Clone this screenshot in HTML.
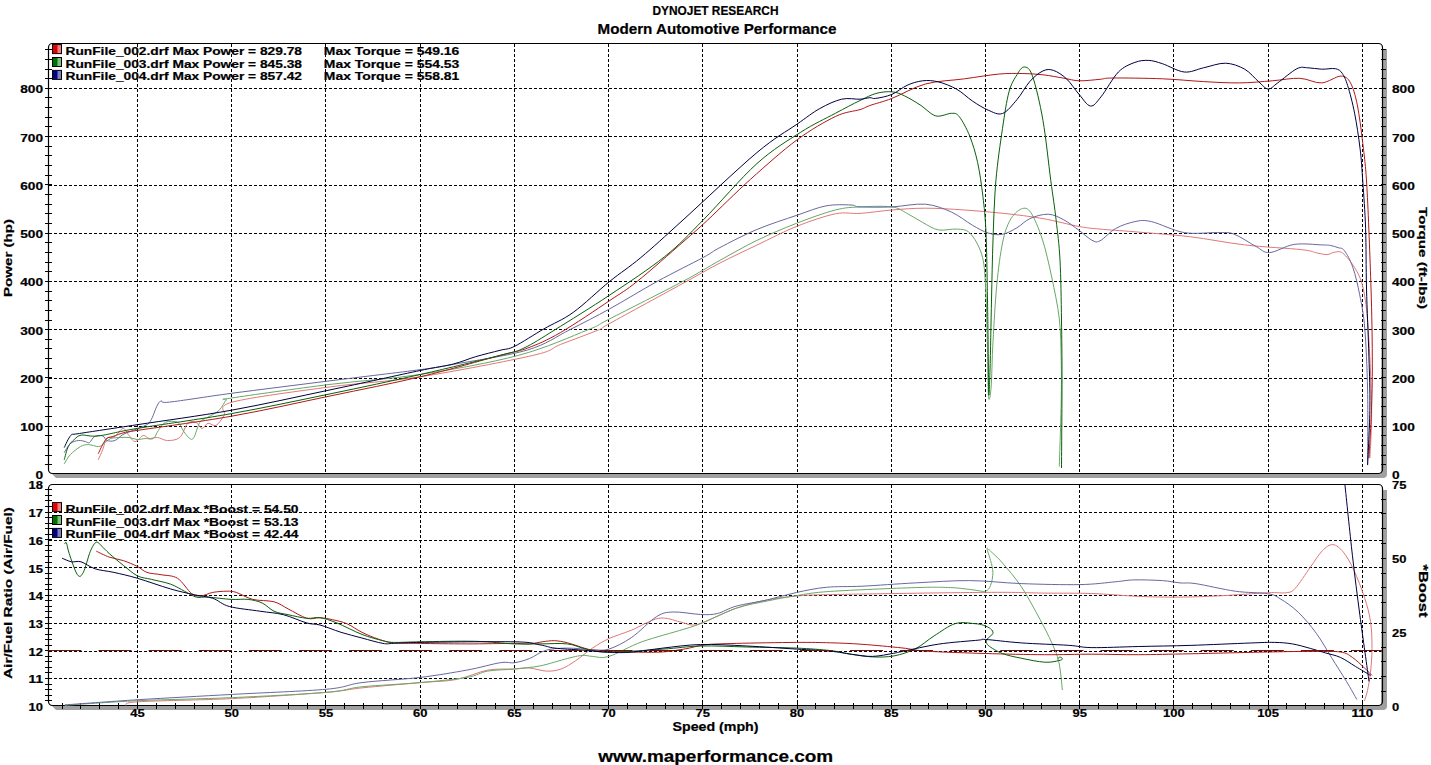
<!DOCTYPE html><html><head><meta charset="utf-8"><style>html,body{margin:0;padding:0;background:#fff;width:1431px;height:765px;overflow:hidden}svg{display:block}text{font-family:"Liberation Sans",sans-serif;font-weight:bold;fill:#000;stroke:#000;stroke-width:0.2px}</style></head><body><svg width="1431" height="765" viewBox="0 0 1431 765"><g stroke="#000" stroke-width="1" stroke-dasharray="3 2" fill="none"><line x1="137.5" y1="44" x2="137.5" y2="473"/><line x1="231.5" y1="44" x2="231.5" y2="473"/><line x1="325.5" y1="44" x2="325.5" y2="473"/><line x1="420.5" y1="44" x2="420.5" y2="473"/><line x1="514.5" y1="44" x2="514.5" y2="473"/><line x1="608.5" y1="44" x2="608.5" y2="473"/><line x1="702.5" y1="44" x2="702.5" y2="473"/><line x1="797.5" y1="44" x2="797.5" y2="473"/><line x1="891.5" y1="44" x2="891.5" y2="473"/><line x1="985.5" y1="44" x2="985.5" y2="473"/><line x1="1079.5" y1="44" x2="1079.5" y2="473"/><line x1="1173.5" y1="44" x2="1173.5" y2="473"/><line x1="1268.5" y1="44" x2="1268.5" y2="473"/><line x1="1362.5" y1="44" x2="1362.5" y2="473"/><line x1="49" y1="426.5" x2="1382" y2="426.5"/><line x1="49" y1="378.5" x2="1382" y2="378.5"/><line x1="49" y1="329.5" x2="1382" y2="329.5"/><line x1="49" y1="281.5" x2="1382" y2="281.5"/><line x1="49" y1="233.5" x2="1382" y2="233.5"/><line x1="49" y1="185.5" x2="1382" y2="185.5"/><line x1="49" y1="136.5" x2="1382" y2="136.5"/><line x1="49" y1="88.5" x2="1382" y2="88.5"/><line x1="137.5" y1="485" x2="137.5" y2="705"/><line x1="231.5" y1="485" x2="231.5" y2="705"/><line x1="325.5" y1="485" x2="325.5" y2="705"/><line x1="420.5" y1="485" x2="420.5" y2="705"/><line x1="514.5" y1="485" x2="514.5" y2="705"/><line x1="608.5" y1="485" x2="608.5" y2="705"/><line x1="702.5" y1="485" x2="702.5" y2="705"/><line x1="797.5" y1="485" x2="797.5" y2="705"/><line x1="891.5" y1="485" x2="891.5" y2="705"/><line x1="985.5" y1="485" x2="985.5" y2="705"/><line x1="1079.5" y1="485" x2="1079.5" y2="705"/><line x1="1173.5" y1="485" x2="1173.5" y2="705"/><line x1="1268.5" y1="485" x2="1268.5" y2="705"/><line x1="1362.5" y1="485" x2="1362.5" y2="705"/><line x1="49" y1="678.5" x2="1382" y2="678.5"/><line x1="49" y1="651.5" x2="1382" y2="651.5"/><line x1="49" y1="623.5" x2="1382" y2="623.5"/><line x1="49" y1="595.5" x2="1382" y2="595.5"/><line x1="49" y1="567.5" x2="1382" y2="567.5"/><line x1="49" y1="540.5" x2="1382" y2="540.5"/><line x1="49" y1="512.5" x2="1382" y2="512.5"/></g><path d="M1383 49 h4 V474 a4 4 0 0 1 -4 4 H56 l-4 -4 H1380 a1 1 0 0 0 1 -1 Z" fill="#a0a0a0"/><path d="M48.5 47.5 a4 4 0 0 1 4 -4 H1378.5 a4 4 0 0 1 4 4 V469.5 a4 4 0 0 1 -4 4 H52.5 a4 4 0 0 1 -4 -4 Z" fill="none" stroke="#000" stroke-width="1.2"/><path d="M1383 490 h4 V706 a4 4 0 0 1 -4 4 H56 l-4 -4 H1380 a1 1 0 0 0 1 -1 Z" fill="#a0a0a0"/><path d="M48.5 488.5 a4 4 0 0 1 4 -4 H1378.5 a4 4 0 0 1 4 4 V701.5 a4 4 0 0 1 -4 4 H52.5 a4 4 0 0 1 -4 -4 Z" fill="none" stroke="#000" stroke-width="1.2"/><g stroke="#000" stroke-width="1"><line x1="45" y1="464.5" x2="52" y2="464.5"/><line x1="45" y1="455.5" x2="52" y2="455.5"/><line x1="45" y1="445.5" x2="52" y2="445.5"/><line x1="45" y1="435.5" x2="52" y2="435.5"/><line x1="45" y1="426.5" x2="52" y2="426.5"/><line x1="45" y1="416.5" x2="52" y2="416.5"/><line x1="45" y1="406.5" x2="52" y2="406.5"/><line x1="45" y1="397.5" x2="52" y2="397.5"/><line x1="45" y1="387.5" x2="52" y2="387.5"/><line x1="45" y1="377.5" x2="52" y2="377.5"/><line x1="45" y1="368.5" x2="52" y2="368.5"/><line x1="45" y1="358.5" x2="52" y2="358.5"/><line x1="45" y1="348.5" x2="52" y2="348.5"/><line x1="45" y1="339.5" x2="52" y2="339.5"/><line x1="45" y1="329.5" x2="52" y2="329.5"/><line x1="45" y1="320.5" x2="52" y2="320.5"/><line x1="45" y1="310.5" x2="52" y2="310.5"/><line x1="45" y1="300.5" x2="52" y2="300.5"/><line x1="45" y1="291.5" x2="52" y2="291.5"/><line x1="45" y1="281.5" x2="52" y2="281.5"/><line x1="45" y1="271.5" x2="52" y2="271.5"/><line x1="45" y1="262.5" x2="52" y2="262.5"/><line x1="45" y1="252.5" x2="52" y2="252.5"/><line x1="45" y1="242.5" x2="52" y2="242.5"/><line x1="45" y1="233.5" x2="52" y2="233.5"/><line x1="45" y1="223.5" x2="52" y2="223.5"/><line x1="45" y1="213.5" x2="52" y2="213.5"/><line x1="45" y1="204.5" x2="52" y2="204.5"/><line x1="45" y1="194.5" x2="52" y2="194.5"/><line x1="45" y1="184.5" x2="52" y2="184.5"/><line x1="45" y1="175.5" x2="52" y2="175.5"/><line x1="45" y1="165.5" x2="52" y2="165.5"/><line x1="45" y1="155.5" x2="52" y2="155.5"/><line x1="45" y1="146.5" x2="52" y2="146.5"/><line x1="45" y1="136.5" x2="52" y2="136.5"/><line x1="45" y1="126.5" x2="52" y2="126.5"/><line x1="45" y1="117.5" x2="52" y2="117.5"/><line x1="45" y1="107.5" x2="52" y2="107.5"/><line x1="45" y1="97.5" x2="52" y2="97.5"/><line x1="45" y1="88.5" x2="52" y2="88.5"/><line x1="45" y1="78.5" x2="52" y2="78.5"/><line x1="45" y1="69.5" x2="52" y2="69.5"/><line x1="45" y1="59.5" x2="52" y2="59.5"/><line x1="45" y1="49.5" x2="52" y2="49.5"/><line x1="1381" y1="464.5" x2="1386" y2="464.5"/><line x1="1381" y1="455.5" x2="1386" y2="455.5"/><line x1="1381" y1="445.5" x2="1386" y2="445.5"/><line x1="1381" y1="435.5" x2="1386" y2="435.5"/><line x1="1381" y1="426.5" x2="1386" y2="426.5"/><line x1="1381" y1="416.5" x2="1386" y2="416.5"/><line x1="1381" y1="406.5" x2="1386" y2="406.5"/><line x1="1381" y1="397.5" x2="1386" y2="397.5"/><line x1="1381" y1="387.5" x2="1386" y2="387.5"/><line x1="1381" y1="377.5" x2="1386" y2="377.5"/><line x1="1381" y1="368.5" x2="1386" y2="368.5"/><line x1="1381" y1="358.5" x2="1386" y2="358.5"/><line x1="1381" y1="348.5" x2="1386" y2="348.5"/><line x1="1381" y1="339.5" x2="1386" y2="339.5"/><line x1="1381" y1="329.5" x2="1386" y2="329.5"/><line x1="1381" y1="320.5" x2="1386" y2="320.5"/><line x1="1381" y1="310.5" x2="1386" y2="310.5"/><line x1="1381" y1="300.5" x2="1386" y2="300.5"/><line x1="1381" y1="291.5" x2="1386" y2="291.5"/><line x1="1381" y1="281.5" x2="1386" y2="281.5"/><line x1="1381" y1="271.5" x2="1386" y2="271.5"/><line x1="1381" y1="262.5" x2="1386" y2="262.5"/><line x1="1381" y1="252.5" x2="1386" y2="252.5"/><line x1="1381" y1="242.5" x2="1386" y2="242.5"/><line x1="1381" y1="233.5" x2="1386" y2="233.5"/><line x1="1381" y1="223.5" x2="1386" y2="223.5"/><line x1="1381" y1="213.5" x2="1386" y2="213.5"/><line x1="1381" y1="204.5" x2="1386" y2="204.5"/><line x1="1381" y1="194.5" x2="1386" y2="194.5"/><line x1="1381" y1="184.5" x2="1386" y2="184.5"/><line x1="1381" y1="175.5" x2="1386" y2="175.5"/><line x1="1381" y1="165.5" x2="1386" y2="165.5"/><line x1="1381" y1="155.5" x2="1386" y2="155.5"/><line x1="1381" y1="146.5" x2="1386" y2="146.5"/><line x1="1381" y1="136.5" x2="1386" y2="136.5"/><line x1="1381" y1="126.5" x2="1386" y2="126.5"/><line x1="1381" y1="117.5" x2="1386" y2="117.5"/><line x1="1381" y1="107.5" x2="1386" y2="107.5"/><line x1="1381" y1="97.5" x2="1386" y2="97.5"/><line x1="1381" y1="88.5" x2="1386" y2="88.5"/><line x1="1381" y1="78.5" x2="1386" y2="78.5"/><line x1="1381" y1="69.5" x2="1386" y2="69.5"/><line x1="1381" y1="59.5" x2="1386" y2="59.5"/><line x1="1381" y1="49.5" x2="1386" y2="49.5"/><line x1="45" y1="700.5" x2="52" y2="700.5"/><line x1="45" y1="695.5" x2="52" y2="695.5"/><line x1="45" y1="689.5" x2="52" y2="689.5"/><line x1="45" y1="684.5" x2="52" y2="684.5"/><line x1="45" y1="678.5" x2="52" y2="678.5"/><line x1="45" y1="672.5" x2="52" y2="672.5"/><line x1="45" y1="667.5" x2="52" y2="667.5"/><line x1="45" y1="661.5" x2="52" y2="661.5"/><line x1="45" y1="656.5" x2="52" y2="656.5"/><line x1="45" y1="650.5" x2="52" y2="650.5"/><line x1="45" y1="645.5" x2="52" y2="645.5"/><line x1="45" y1="639.5" x2="52" y2="639.5"/><line x1="45" y1="634.5" x2="52" y2="634.5"/><line x1="45" y1="628.5" x2="52" y2="628.5"/><line x1="45" y1="623.5" x2="52" y2="623.5"/><line x1="45" y1="617.5" x2="52" y2="617.5"/><line x1="45" y1="611.5" x2="52" y2="611.5"/><line x1="45" y1="606.5" x2="52" y2="606.5"/><line x1="45" y1="600.5" x2="52" y2="600.5"/><line x1="45" y1="595.5" x2="52" y2="595.5"/><line x1="45" y1="589.5" x2="52" y2="589.5"/><line x1="45" y1="584.5" x2="52" y2="584.5"/><line x1="45" y1="578.5" x2="52" y2="578.5"/><line x1="45" y1="573.5" x2="52" y2="573.5"/><line x1="45" y1="567.5" x2="52" y2="567.5"/><line x1="45" y1="562.5" x2="52" y2="562.5"/><line x1="45" y1="556.5" x2="52" y2="556.5"/><line x1="45" y1="550.5" x2="52" y2="550.5"/><line x1="45" y1="545.5" x2="52" y2="545.5"/><line x1="45" y1="539.5" x2="52" y2="539.5"/><line x1="45" y1="534.5" x2="52" y2="534.5"/><line x1="45" y1="528.5" x2="52" y2="528.5"/><line x1="45" y1="523.5" x2="52" y2="523.5"/><line x1="45" y1="517.5" x2="52" y2="517.5"/><line x1="45" y1="512.5" x2="52" y2="512.5"/><line x1="45" y1="506.5" x2="52" y2="506.5"/><line x1="45" y1="500.5" x2="52" y2="500.5"/><line x1="45" y1="495.5" x2="52" y2="495.5"/><line x1="45" y1="489.5" x2="52" y2="489.5"/><line x1="1381" y1="691.5" x2="1386" y2="691.5"/><line x1="1381" y1="676.5" x2="1386" y2="676.5"/><line x1="1381" y1="661.5" x2="1386" y2="661.5"/><line x1="1381" y1="647.5" x2="1386" y2="647.5"/><line x1="1381" y1="632.5" x2="1386" y2="632.5"/><line x1="1381" y1="617.5" x2="1386" y2="617.5"/><line x1="1381" y1="602.5" x2="1386" y2="602.5"/><line x1="1381" y1="587.5" x2="1386" y2="587.5"/><line x1="1381" y1="573.5" x2="1386" y2="573.5"/><line x1="1381" y1="558.5" x2="1386" y2="558.5"/><line x1="1381" y1="543.5" x2="1386" y2="543.5"/><line x1="1381" y1="528.5" x2="1386" y2="528.5"/><line x1="1381" y1="513.5" x2="1386" y2="513.5"/><line x1="1381" y1="499.5" x2="1386" y2="499.5"/><line x1="62.5" y1="703" x2="62.5" y2="709"/><line x1="80.5" y1="703" x2="80.5" y2="709"/><line x1="99.5" y1="703" x2="99.5" y2="709"/><line x1="118.5" y1="703" x2="118.5" y2="709"/><line x1="137.5" y1="703" x2="137.5" y2="709"/><line x1="156.5" y1="703" x2="156.5" y2="709"/><line x1="175.5" y1="703" x2="175.5" y2="709"/><line x1="194.5" y1="703" x2="194.5" y2="709"/><line x1="212.5" y1="703" x2="212.5" y2="709"/><line x1="231.5" y1="703" x2="231.5" y2="709"/><line x1="250.5" y1="703" x2="250.5" y2="709"/><line x1="269.5" y1="703" x2="269.5" y2="709"/><line x1="288.5" y1="703" x2="288.5" y2="709"/><line x1="307.5" y1="703" x2="307.5" y2="709"/><line x1="325.5" y1="703" x2="325.5" y2="709"/><line x1="344.5" y1="703" x2="344.5" y2="709"/><line x1="363.5" y1="703" x2="363.5" y2="709"/><line x1="382.5" y1="703" x2="382.5" y2="709"/><line x1="401.5" y1="703" x2="401.5" y2="709"/><line x1="420.5" y1="703" x2="420.5" y2="709"/><line x1="438.5" y1="703" x2="438.5" y2="709"/><line x1="457.5" y1="703" x2="457.5" y2="709"/><line x1="476.5" y1="703" x2="476.5" y2="709"/><line x1="495.5" y1="703" x2="495.5" y2="709"/><line x1="514.5" y1="703" x2="514.5" y2="709"/><line x1="533.5" y1="703" x2="533.5" y2="709"/><line x1="552.5" y1="703" x2="552.5" y2="709"/><line x1="570.5" y1="703" x2="570.5" y2="709"/><line x1="589.5" y1="703" x2="589.5" y2="709"/><line x1="608.5" y1="703" x2="608.5" y2="709"/><line x1="627.5" y1="703" x2="627.5" y2="709"/><line x1="646.5" y1="703" x2="646.5" y2="709"/><line x1="665.5" y1="703" x2="665.5" y2="709"/><line x1="683.5" y1="703" x2="683.5" y2="709"/><line x1="702.5" y1="703" x2="702.5" y2="709"/><line x1="721.5" y1="703" x2="721.5" y2="709"/><line x1="740.5" y1="703" x2="740.5" y2="709"/><line x1="759.5" y1="703" x2="759.5" y2="709"/><line x1="778.5" y1="703" x2="778.5" y2="709"/><line x1="797.5" y1="703" x2="797.5" y2="709"/><line x1="815.5" y1="703" x2="815.5" y2="709"/><line x1="834.5" y1="703" x2="834.5" y2="709"/><line x1="853.5" y1="703" x2="853.5" y2="709"/><line x1="872.5" y1="703" x2="872.5" y2="709"/><line x1="891.5" y1="703" x2="891.5" y2="709"/><line x1="910.5" y1="703" x2="910.5" y2="709"/><line x1="928.5" y1="703" x2="928.5" y2="709"/><line x1="947.5" y1="703" x2="947.5" y2="709"/><line x1="966.5" y1="703" x2="966.5" y2="709"/><line x1="985.5" y1="703" x2="985.5" y2="709"/><line x1="1004.5" y1="703" x2="1004.5" y2="709"/><line x1="1023.5" y1="703" x2="1023.5" y2="709"/><line x1="1041.5" y1="703" x2="1041.5" y2="709"/><line x1="1060.5" y1="703" x2="1060.5" y2="709"/><line x1="1079.5" y1="703" x2="1079.5" y2="709"/><line x1="1098.5" y1="703" x2="1098.5" y2="709"/><line x1="1117.5" y1="703" x2="1117.5" y2="709"/><line x1="1136.5" y1="703" x2="1136.5" y2="709"/><line x1="1155.5" y1="703" x2="1155.5" y2="709"/><line x1="1173.5" y1="703" x2="1173.5" y2="709"/><line x1="1192.5" y1="703" x2="1192.5" y2="709"/><line x1="1211.5" y1="703" x2="1211.5" y2="709"/><line x1="1230.5" y1="703" x2="1230.5" y2="709"/><line x1="1249.5" y1="703" x2="1249.5" y2="709"/><line x1="1268.5" y1="703" x2="1268.5" y2="709"/><line x1="1286.5" y1="703" x2="1286.5" y2="709"/><line x1="1305.5" y1="703" x2="1305.5" y2="709"/><line x1="1324.5" y1="703" x2="1324.5" y2="709"/><line x1="1343.5" y1="703" x2="1343.5" y2="709"/><line x1="1362.5" y1="703" x2="1362.5" y2="709"/></g><text x="43" y="478.5" font-size="11" text-anchor="end" textLength="7.6" lengthAdjust="spacingAndGlyphs">0</text><text x="1392" y="478.5" font-size="11" text-anchor="start" textLength="7.6" lengthAdjust="spacingAndGlyphs">0</text><text x="43" y="431.23" font-size="11" text-anchor="end" textLength="22.799999999999997" lengthAdjust="spacingAndGlyphs">100</text><text x="1392" y="431.23" font-size="11" text-anchor="start" textLength="22.799999999999997" lengthAdjust="spacingAndGlyphs">100</text><text x="43" y="382.96" font-size="11" text-anchor="end" textLength="22.799999999999997" lengthAdjust="spacingAndGlyphs">200</text><text x="1392" y="382.96" font-size="11" text-anchor="start" textLength="22.799999999999997" lengthAdjust="spacingAndGlyphs">200</text><text x="43" y="334.69" font-size="11" text-anchor="end" textLength="22.799999999999997" lengthAdjust="spacingAndGlyphs">300</text><text x="1392" y="334.69" font-size="11" text-anchor="start" textLength="22.799999999999997" lengthAdjust="spacingAndGlyphs">300</text><text x="43" y="286.41999999999996" font-size="11" text-anchor="end" textLength="22.799999999999997" lengthAdjust="spacingAndGlyphs">400</text><text x="1392" y="286.41999999999996" font-size="11" text-anchor="start" textLength="22.799999999999997" lengthAdjust="spacingAndGlyphs">400</text><text x="43" y="238.14999999999998" font-size="11" text-anchor="end" textLength="22.799999999999997" lengthAdjust="spacingAndGlyphs">500</text><text x="1392" y="238.14999999999998" font-size="11" text-anchor="start" textLength="22.799999999999997" lengthAdjust="spacingAndGlyphs">500</text><text x="43" y="189.88" font-size="11" text-anchor="end" textLength="22.799999999999997" lengthAdjust="spacingAndGlyphs">600</text><text x="1392" y="189.88" font-size="11" text-anchor="start" textLength="22.799999999999997" lengthAdjust="spacingAndGlyphs">600</text><text x="43" y="141.61" font-size="11" text-anchor="end" textLength="22.799999999999997" lengthAdjust="spacingAndGlyphs">700</text><text x="1392" y="141.61" font-size="11" text-anchor="start" textLength="22.799999999999997" lengthAdjust="spacingAndGlyphs">700</text><text x="43" y="93.33999999999997" font-size="11" text-anchor="end" textLength="22.799999999999997" lengthAdjust="spacingAndGlyphs">800</text><text x="1392" y="93.33999999999997" font-size="11" text-anchor="start" textLength="22.799999999999997" lengthAdjust="spacingAndGlyphs">800</text><text x="43" y="711.2" font-size="11" text-anchor="end" textLength="14.4" lengthAdjust="spacingAndGlyphs">10</text><text x="43" y="683.47" font-size="11" text-anchor="end" textLength="14.4" lengthAdjust="spacingAndGlyphs">11</text><text x="43" y="655.74" font-size="11" text-anchor="end" textLength="14.4" lengthAdjust="spacingAndGlyphs">12</text><text x="43" y="628.01" font-size="11" text-anchor="end" textLength="14.4" lengthAdjust="spacingAndGlyphs">13</text><text x="43" y="600.2800000000001" font-size="11" text-anchor="end" textLength="14.4" lengthAdjust="spacingAndGlyphs">14</text><text x="43" y="572.5500000000001" font-size="11" text-anchor="end" textLength="14.4" lengthAdjust="spacingAndGlyphs">15</text><text x="43" y="544.82" font-size="11" text-anchor="end" textLength="14.4" lengthAdjust="spacingAndGlyphs">16</text><text x="43" y="517.09" font-size="11" text-anchor="end" textLength="14.4" lengthAdjust="spacingAndGlyphs">17</text><text x="43" y="489.36" font-size="11" text-anchor="end" textLength="14.4" lengthAdjust="spacingAndGlyphs">18</text><text x="1392" y="711.2" font-size="11" text-anchor="start" textLength="7.2" lengthAdjust="spacingAndGlyphs">0</text><text x="1392" y="637.2533333333333" font-size="11" text-anchor="start" textLength="14.4" lengthAdjust="spacingAndGlyphs">25</text><text x="1392" y="563.3066666666667" font-size="11" text-anchor="start" textLength="14.4" lengthAdjust="spacingAndGlyphs">50</text><text x="1392" y="489.36" font-size="11" text-anchor="start" textLength="14.4" lengthAdjust="spacingAndGlyphs">75</text><text x="137.5" y="717" font-size="11" text-anchor="middle" textLength="14.4" lengthAdjust="spacingAndGlyphs">45</text><text x="231.715" y="717" font-size="11" text-anchor="middle" textLength="14.4" lengthAdjust="spacingAndGlyphs">50</text><text x="325.93" y="717" font-size="11" text-anchor="middle" textLength="14.4" lengthAdjust="spacingAndGlyphs">55</text><text x="420.145" y="717" font-size="11" text-anchor="middle" textLength="14.4" lengthAdjust="spacingAndGlyphs">60</text><text x="514.36" y="717" font-size="11" text-anchor="middle" textLength="14.4" lengthAdjust="spacingAndGlyphs">65</text><text x="608.575" y="717" font-size="11" text-anchor="middle" textLength="14.4" lengthAdjust="spacingAndGlyphs">70</text><text x="702.79" y="717" font-size="11" text-anchor="middle" textLength="14.4" lengthAdjust="spacingAndGlyphs">75</text><text x="797.005" y="717" font-size="11" text-anchor="middle" textLength="14.4" lengthAdjust="spacingAndGlyphs">80</text><text x="891.22" y="717" font-size="11" text-anchor="middle" textLength="14.4" lengthAdjust="spacingAndGlyphs">85</text><text x="985.435" y="717" font-size="11" text-anchor="middle" textLength="14.4" lengthAdjust="spacingAndGlyphs">90</text><text x="1079.65" y="717" font-size="11" text-anchor="middle" textLength="14.4" lengthAdjust="spacingAndGlyphs">95</text><text x="1173.865" y="717" font-size="11" text-anchor="middle" textLength="21.6" lengthAdjust="spacingAndGlyphs">100</text><text x="1268.08" y="717" font-size="11" text-anchor="middle" textLength="21.6" lengthAdjust="spacingAndGlyphs">105</text><text x="1362.295" y="717" font-size="11" text-anchor="middle" textLength="21.6" lengthAdjust="spacingAndGlyphs">110</text><text x="715.5" y="14.5" font-size="12" text-anchor="middle" textLength="126" lengthAdjust="spacingAndGlyphs">DYNOJET RESEARCH</text><text x="717" y="33.5" font-size="14" text-anchor="middle" textLength="239" lengthAdjust="spacingAndGlyphs">Modern Automotive Performance</text><text x="715.5" y="730.5" font-size="12" text-anchor="middle" textLength="86" lengthAdjust="spacingAndGlyphs">Speed (mph)</text><text x="715.7" y="762" font-size="16" text-anchor="middle" textLength="235" lengthAdjust="spacingAndGlyphs">www.maperformance.com</text><text transform="translate(12.3,258) rotate(-90)" font-size="11.5" text-anchor="middle" textLength="78" lengthAdjust="spacingAndGlyphs">Power (hp)</text><text transform="translate(1419,258) rotate(90)" font-size="11.5" text-anchor="middle" textLength="102" lengthAdjust="spacingAndGlyphs">Torque (ft-lbs)</text><text transform="translate(12.3,593) rotate(-90)" font-size="11.5" text-anchor="middle" textLength="172" lengthAdjust="spacingAndGlyphs">Air/Fuel Ratio (Air/Fuel)</text><text transform="translate(1419,591) rotate(90)" font-size="12" text-anchor="middle" textLength="53" lengthAdjust="spacingAndGlyphs">*Boost</text><rect x="52.5" y="44.6" width="9" height="9" fill="#f08080" stroke="#000" stroke-width="1"/><rect x="53" y="45.1" width="4.5" height="8" fill="#e00000"/><text x="65.5" y="54.6" font-size="11" text-anchor="start" textLength="236.5" lengthAdjust="spacingAndGlyphs">RunFile_002.drf Max Power = 829.78</text><text x="323.8" y="54.6" font-size="11" text-anchor="start" textLength="135.5" lengthAdjust="spacingAndGlyphs">Max Torque = 549.16</text><rect x="52.5" y="57.5" width="9" height="9" fill="#80c080" stroke="#000" stroke-width="1"/><rect x="53" y="58.0" width="4.5" height="8" fill="#007000"/><text x="65.5" y="67.5" font-size="11" text-anchor="start" textLength="236.5" lengthAdjust="spacingAndGlyphs">RunFile_003.drf Max Power = 845.38</text><text x="323.8" y="67.5" font-size="11" text-anchor="start" textLength="135.5" lengthAdjust="spacingAndGlyphs">Max Torque = 554.53</text><rect x="52.5" y="70.4" width="9" height="9" fill="#8080c0" stroke="#000" stroke-width="1"/><rect x="53" y="70.9" width="4.5" height="8" fill="#000080"/><text x="65.5" y="80.4" font-size="11" text-anchor="start" textLength="236.5" lengthAdjust="spacingAndGlyphs">RunFile_004.drf Max Power = 857.42</text><text x="323.8" y="80.4" font-size="11" text-anchor="start" textLength="135.5" lengthAdjust="spacingAndGlyphs">Max Torque = 558.81</text><rect x="52.5" y="502.6" width="9" height="9" fill="#f08080" stroke="#000" stroke-width="1"/><rect x="53" y="503.1" width="4.5" height="8" fill="#e00000"/><text x="65.5" y="512.6" font-size="11" text-anchor="start" textLength="233" lengthAdjust="spacingAndGlyphs">RunFile_002.drf Max *Boost = 54.50</text><rect x="52.5" y="515.5" width="9" height="9" fill="#80c080" stroke="#000" stroke-width="1"/><rect x="53" y="516.0" width="4.5" height="8" fill="#007000"/><text x="65.5" y="525.5" font-size="11" text-anchor="start" textLength="233" lengthAdjust="spacingAndGlyphs">RunFile_003.drf Max *Boost = 53.13</text><rect x="52.5" y="528.4" width="9" height="9" fill="#8080c0" stroke="#000" stroke-width="1"/><rect x="53" y="528.9" width="4.5" height="8" fill="#000080"/><text x="65.5" y="538.4" font-size="11" text-anchor="start" textLength="233" lengthAdjust="spacingAndGlyphs">RunFile_004.drf Max *Boost = 42.44</text><path d="M98.2,459.8 C99.0,458.1 101.3,453.2 102.7,449.7 C104.1,446.1 104.8,440.7 106.8,438.5 C108.8,436.3 112.2,438.2 114.9,436.5 C117.6,434.8 120.7,428.6 123.0,428.4 C125.3,428.2 127.0,433.3 129.0,435.5 C131.0,437.7 132.7,441.6 135.1,441.6 C137.5,441.6 140.8,436.0 143.2,435.5 C145.6,435.0 146.9,438.2 149.3,438.5 C151.7,438.8 154.4,437.2 157.4,437.5 C160.4,437.8 163.8,440.5 167.5,440.5 C171.2,440.5 176.3,440.4 179.7,437.5 C183.1,434.6 185.1,425.8 187.8,423.3 C190.5,420.8 193.5,421.5 195.9,422.3 C198.3,423.1 200.0,428.2 202.0,428.4 C204.0,428.6 205.6,423.8 208.0,423.3 C210.4,422.8 213.5,426.7 216.2,425.3 C218.9,423.9 221.6,419.1 224.3,415.2 C227.0,411.3 214.8,406.8 232.4,402.1 C250.0,397.4 298.6,391.1 330.0,386.9 C361.4,382.7 386.9,381.9 420.7,376.7 C454.5,371.4 509.6,360.8 532.9,355.4 C556.2,350.0 549.4,348.8 560.4,344.5 C571.4,340.2 590.6,333.3 598.8,329.8 C607.0,326.3 595.1,331.5 609.8,323.4 C624.4,315.3 668.3,291.4 686.7,281.3 C705.1,271.2 708.3,269.0 720.0,263.0 C731.7,257.0 744.1,251.2 756.9,245.1 C769.7,239.0 783.7,231.5 796.8,226.3 C809.9,221.1 824.9,216.0 835.4,213.8 C845.9,211.7 850.6,214.0 860.0,213.4 C869.4,212.8 881.0,210.9 891.9,210.0 C902.8,209.1 913.3,208.2 925.4,208.2 C937.5,208.2 951.5,209.1 964.6,210.0 C977.7,210.9 990.7,212.0 1003.8,213.4 C1016.9,214.8 1030.5,216.4 1043.0,218.6 C1055.5,220.8 1069.6,224.8 1079.1,226.5 C1088.6,228.2 1090.7,228.2 1100.0,229.1 C1109.3,230.0 1119.9,230.5 1134.9,231.8 C1149.9,233.1 1171.5,234.5 1189.8,236.7 C1208.1,238.9 1226.0,242.7 1244.7,244.9 C1263.4,247.1 1289.6,248.3 1301.7,249.7 C1313.8,251.0 1313.0,252.2 1317.2,253.0 C1321.4,253.8 1324.3,254.7 1327.1,254.6 C1329.9,254.5 1331.6,252.6 1334.2,252.3 C1336.8,252.1 1339.2,250.5 1342.6,253.1 C1346.0,255.7 1351.2,261.8 1354.6,267.6 C1358.0,273.4 1360.8,277.8 1363.1,288.0 C1365.4,298.2 1366.8,308.9 1368.2,328.8 C1369.6,348.7 1371.3,385.6 1371.6,407.1 C1371.9,428.7 1370.2,449.6 1369.9,458.1" fill="none" stroke="#e07878" stroke-width="1" stroke-linejoin="round"/><path d="M64.2,463.8 C65.2,462.3 67.6,457.6 70.3,454.7 C73.0,451.8 77.4,448.3 80.4,446.6 C83.4,444.9 85.5,444.6 88.5,444.6 C91.5,444.6 96.1,446.8 98.6,446.6 C101.1,446.4 101.7,445.0 103.7,443.6 C105.7,442.2 107.9,439.5 110.8,438.5 C113.7,437.5 117.9,437.7 120.9,437.5 C123.9,437.3 126.3,437.2 129.0,437.5 C131.7,437.8 134.4,439.3 137.1,439.5 C139.8,439.7 142.5,438.7 145.2,438.5 C147.9,438.3 151.1,439.9 153.3,438.5 C155.5,437.1 156.4,433.1 158.4,430.4 C160.4,427.7 162.3,423.6 165.5,422.3 C168.7,421.0 174.7,420.8 177.7,422.3 C180.7,423.8 181.7,428.7 183.7,431.4 C185.7,434.1 188.1,437.5 189.8,438.5 C191.5,439.5 192.2,440.2 193.9,437.5 C195.6,434.8 197.6,425.7 199.9,422.3 C202.2,418.9 204.8,419.2 208.0,417.2 C211.2,415.2 216.1,413.1 219.2,410.2 C222.2,407.3 224.2,402.0 226.3,400.0 C228.4,398.0 214.2,400.6 231.5,398.0 C248.8,395.4 298.5,388.3 330.0,384.4 C361.5,380.5 389.3,379.2 420.7,374.4 C452.1,369.6 490.4,362.8 518.3,355.4 C546.2,348.0 572.6,335.9 587.9,329.8 C603.1,323.7 593.9,326.9 609.8,318.8 C625.6,310.7 664.6,291.1 683.0,281.3 C701.4,271.6 707.7,267.1 720.0,260.3 C732.3,253.5 744.1,246.6 756.9,240.4 C769.7,234.2 783.7,228.3 796.8,223.2 C809.9,218.1 824.8,212.7 835.4,210.0 C846.0,207.3 850.8,207.4 860.2,206.9 C869.6,206.4 884.1,205.8 891.9,206.9 C899.7,208.0 902.0,210.8 907.1,213.4 C912.2,216.0 917.5,219.8 922.7,222.5 C927.9,225.2 932.7,228.8 938.4,229.9 C944.1,231.0 951.5,228.6 956.7,229.1 C961.9,229.6 965.6,228.8 969.8,233.0 C974.0,237.2 979.1,245.8 981.7,254.4 C984.3,263.0 984.6,270.2 985.5,284.7 C986.4,299.2 986.8,322.9 987.3,341.5 C987.8,360.1 987.9,388.8 988.5,396.4 C989.1,404.0 990.4,396.1 991.1,387 C991.9,377.9 992.0,358.6 993,341.5 C994.0,324.4 995.2,301.1 996.8,284.7 C998.4,268.3 1000.3,253.7 1002.5,243 C1004.7,232.3 1006.9,226.0 1010,220.3 C1013.1,214.6 1017.9,210.2 1021.4,208.9 C1024.9,207.6 1027.4,207.6 1030.9,212.7 C1034.4,217.8 1038.8,228.5 1042.3,239.2 C1045.8,249.9 1048.9,263.8 1051.7,277.1 C1054.5,290.4 1057.7,304.9 1059.3,318.8 C1060.9,332.7 1060.9,346.6 1061.2,360.5 C1061.5,374.4 1061.5,384.3 1061.2,402 C1060.9,419.7 1059.6,455.8 1059.3,466.5" fill="none" stroke="#68a868" stroke-width="1" stroke-linejoin="round"/><path d="M64.2,452.7 C65.2,451.2 67.9,445.6 70.3,443.6 C72.7,441.6 75.9,440.8 78.4,440.5 C80.9,440.2 83.7,441.2 85.5,441.6 C87.3,442.0 88.0,443.5 89.5,442.6 C91.0,441.8 92.4,437.6 94.6,436.5 C96.8,435.4 100.7,435.2 102.7,435.9 C104.7,436.6 104.8,439.7 106.8,440.5 C108.8,441.3 112.2,441.5 114.9,440.5 C117.6,439.5 120.0,436.2 123.0,434.5 C126.0,432.8 129.7,431.8 133.1,430.4 C136.5,429.0 140.3,427.9 143.2,426.4 C146.1,424.9 147.9,424.9 150.3,421.3 C152.7,417.8 155.5,408.5 157.4,405.1 C159.3,401.7 159.5,401.5 161.5,401.0 C163.5,400.5 157.9,403.4 169.6,402.1 C181.3,400.8 204.8,396.9 231.5,393.3 C258.2,389.8 298.5,384.8 330.0,380.8 C361.5,376.9 400.1,372.3 420.7,369.6 C441.2,366.9 435.5,367.7 453.3,364.4 C471.1,361.1 508.1,355.8 527.5,350.0 C546.9,344.2 555.9,336.7 569.6,329.8 C583.3,322.9 595.2,316.9 609.8,308.8 C624.4,300.7 641.8,289.9 657.4,281.3 C673.0,272.8 692.8,263.1 703.2,257.5 C713.6,251.9 711.0,252.2 720.0,247.5 C729.0,242.8 744.1,234.9 756.9,229.5 C769.7,224.1 785.3,219.2 796.8,215.3 C808.3,211.4 816.9,207.6 825.9,205.9 C834.9,204.2 845.3,204.8 851.0,205.0 C856.7,205.2 853.2,206.6 860.0,206.9 C866.8,207.2 881.0,207.4 891.9,206.9 C902.8,206.4 915.5,203.3 925.4,204.2 C935.3,205.1 943.7,208.6 951.5,212.1 C959.3,215.6 966.3,221.7 972.4,225.2 C978.5,228.7 983.1,231.5 988.1,233.0 C993.1,234.5 997.7,235.2 1002.5,234.3 C1007.3,233.4 1012.3,230.4 1016.9,227.8 C1021.5,225.2 1024.7,220.9 1029.9,218.6 C1035.1,216.3 1042.5,214.0 1048.2,214.2 C1053.9,214.4 1058.8,217.2 1063.9,219.9 C1069.1,222.6 1074.4,227.0 1079.1,230.4 C1083.8,233.8 1088.4,238.5 1091.9,240.2 C1095.4,241.9 1096.0,242.8 1100.0,240.8 C1104.0,238.9 1109.9,231.7 1115.7,228.5 C1121.5,225.3 1129.0,222.8 1134.9,221.6 C1140.9,220.4 1143.2,219.8 1151.4,221.6 C1159.6,223.4 1173.3,230.8 1184.3,232.6 C1195.3,234.4 1209.0,232.4 1217.3,232.6 C1225.5,232.8 1227.4,231.7 1233.8,234.0 C1240.2,236.3 1249.8,243.2 1255.7,246.3 C1261.7,249.4 1263.1,252.9 1269.5,252.6 C1275.9,252.3 1285.5,245.7 1294.2,244.4 C1302.9,243.1 1315.5,244.7 1321.6,244.9 C1327.7,245.1 1328.0,245.0 1330.8,245.5 C1333.5,246.0 1335.8,246.8 1338.1,247.7 C1340.4,248.5 1341.9,247.3 1344.4,250.6 C1346.9,253.9 1350.4,260.2 1352.9,267.6 C1355.5,275.0 1357.7,284.6 1359.7,294.8 C1361.7,305.0 1363.5,312.9 1364.8,328.8 C1366.1,344.7 1367.1,367.4 1367.6,390.1 C1368.1,412.8 1367.6,452.4 1367.6,464.9" fill="none" stroke="#6868a0" stroke-width="1" stroke-linejoin="round"/><path d="M98.2,453.7 C99.5,451.3 103.3,442.4 105.7,439.5 C108.1,436.6 109.6,437.7 112.8,436.5 C116.0,435.3 120.9,433.4 125.0,432.4 C129.1,431.4 119.6,433.1 137.3,430.4 C155.1,427.7 199.4,421.9 231.5,416.2 C263.6,410.5 298.5,402.6 330.0,396.0 C361.5,389.4 392.4,383.5 420.7,376.7 C449.0,369.9 482.2,360.2 500.0,355.4 C517.8,350.6 517.4,351.9 527.5,348.1 C537.6,344.3 546.7,340.5 560.4,332.6 C574.1,324.7 597.0,309.1 609.8,300.5 C622.6,291.9 625.1,291.1 637.3,281.3 C649.5,271.6 671.3,252.2 683.0,242.0 C694.7,231.8 696.4,230.5 707.7,220.0 C719.0,209.5 735.8,192.5 750.6,179.2 C765.5,165.9 782.7,150.4 796.8,140.0 C810.9,129.6 824.9,121.6 835.4,116.5 C845.9,111.4 854.2,111.4 860.0,109.6 C865.8,107.8 864.6,107.4 869.9,105.5 C875.2,103.6 882.6,102.0 891.9,98.4 C901.1,94.8 913.3,87.3 925.4,84.0 C937.5,80.7 952.4,80.5 964.6,78.8 C976.8,77.1 989.0,75.0 998.6,74.1 C1008.2,73.2 1014.7,73.4 1022.1,73.5 C1029.5,73.6 1036.0,74.0 1043.0,74.8 C1050.0,75.6 1057.9,77.2 1063.9,78.2 C1069.9,79.2 1073.1,80.6 1079.1,80.8 C1085.1,81.0 1094.4,79.8 1100.0,79.3 C1105.6,78.8 1102.5,78.1 1112.9,78.0 C1123.3,77.9 1147.3,78.2 1162.4,78.8 C1177.5,79.4 1190.8,80.9 1203.6,81.6 C1216.4,82.3 1227.9,83.0 1239.3,82.9 C1250.7,82.8 1262.1,81.6 1272.2,80.8 C1282.3,80.0 1291.5,77.9 1299.7,78.3 C1307.9,78.7 1314.8,83.3 1321.6,82.9 C1328.4,82.5 1336.0,76.1 1340.8,76.1 C1345.6,76.1 1347.8,78.1 1350.5,82.9 C1353.2,87.7 1355.2,94.8 1357.3,104.9 C1359.3,115.0 1361.2,129.7 1362.8,143.4 C1364.4,157.1 1365.5,163.2 1366.9,187.3 C1368.3,211.4 1370.1,259.9 1371.0,288.0 C1371.9,316.1 1372.2,336.2 1372.3,356.1 C1372.4,376.0 1372.2,390.1 1371.6,407.1 C1371.0,424.1 1369.4,449.6 1368.9,458.1" fill="none" stroke="#b01818" stroke-width="1.0" stroke-linejoin="round"/><path d="M64.2,459.8 C64.9,457.6 66.6,450.0 68.3,446.6 C70.0,443.2 72.1,441.4 74.3,439.5 C76.5,437.6 77.4,435.7 81.4,435.1 C85.5,434.5 89.3,437.0 98.6,435.9 C107.9,434.8 115.2,432.1 137.3,428.4 C159.5,424.7 199.4,419.4 231.5,413.6 C263.6,407.9 298.5,400.4 330.0,393.9 C361.5,387.4 392.4,380.8 420.7,374.4 C449.0,368.0 482.8,359.8 500.0,355.4 C517.2,351.0 514.6,352.4 523.8,348.1 C532.9,343.8 540.6,338.7 554.9,329.8 C569.2,320.9 591.5,307.2 609.8,295.0 C628.1,282.8 649.1,269.1 664.7,256.6 C680.3,244.1 687.8,235.5 703.2,220.0 C718.6,204.5 740.6,178.2 756.9,163.6 C773.2,149.0 787.7,140.6 800.8,132.2 C813.9,123.8 825.5,118.6 835.4,113.3 C845.3,108.0 853.2,103.8 860.0,100.5 C866.8,97.2 870.6,95.0 875.9,93.5 C881.2,92.0 887.1,91.4 891.9,91.8 C896.6,92.2 899.7,93.6 904.4,95.8 C909.1,98.0 914.9,101.6 920.1,104.9 C925.3,108.2 930.6,114.5 935.8,115.9 C941.0,117.3 947.6,113.2 951.5,113.3 C955.4,113.4 956.2,112.9 959.3,116.7 C962.3,120.5 966.8,128.7 969.8,136.3 C972.8,143.9 975.4,152.4 977.6,162.4 C979.8,172.4 981.5,184.6 982.9,196.4 C984.3,208.2 985.2,215.7 986.0,233.0 C986.8,250.3 987.1,278.8 987.5,300 C987.9,321.2 988.1,344.2 988.3,360 C988.5,375.8 988.5,393.3 988.8,395 C989.1,396.7 989.5,385.8 990,370 C990.5,354.2 991.0,321.7 991.5,300 C992.0,278.3 992.3,259.9 993,240 C993.7,220.1 994.3,199.3 995.9,180.7 C997.5,162.1 1000.3,143.2 1002.5,128.4 C1004.7,113.6 1006.6,100.7 1009.0,91.8 C1011.4,82.9 1014.4,78.9 1016.9,74.8 C1019.4,70.7 1021.6,66.8 1024.2,67.0 C1026.8,67.2 1029.4,67.2 1032.5,76.1 C1035.6,85.0 1040.0,103.2 1043.0,120.6 C1046.0,138.0 1048.6,164.1 1050.8,180.7 C1053.0,197.2 1054.6,206.7 1056.1,219.9 C1057.6,233.1 1059.1,243.3 1060,260 C1060.9,276.7 1061.2,300.0 1061.5,320 C1061.8,340.0 1062.0,355.3 1062,380 C1062.0,404.7 1061.6,453.3 1061.5,468" fill="none" stroke="#086008" stroke-width="1.0" stroke-linejoin="round"/><path d="M64.2,447.6 C65.3,445.6 68.3,437.9 70.8,435.5 C73.3,433.1 68.3,435.3 79.4,433.5 C90.5,431.7 112.0,428.6 137.3,424.7 C162.7,420.8 199.4,416.0 231.5,410.2 C263.6,404.4 298.5,396.5 330.0,389.9 C361.5,383.3 400.1,374.7 420.7,370.4 C441.2,366.1 444.1,366.3 453.3,364.0 C462.5,361.7 467.8,359.0 475.6,356.7 C483.4,354.4 493.5,352.0 500.0,350.3 C506.5,348.6 507.3,349.9 514.6,346.3 C521.9,342.7 534.1,334.5 543.9,328.9 C553.7,323.2 562.2,320.3 573.2,312.4 C584.2,304.5 598.5,290.4 609.8,281.3 C621.1,272.2 628.7,267.7 640.9,257.5 C653.1,247.3 663.7,237.5 683.0,220.0 C702.3,202.5 737.9,168.5 756.9,152.6 C775.9,136.7 786.3,131.6 796.8,124.3 C807.3,117.0 812.2,112.8 819.7,108.6 C827.2,104.4 834.9,100.8 841.6,99.2 C848.3,97.6 855.3,99.5 860.0,99.2 C864.7,99.0 867.3,97.8 869.9,97.7 C872.5,97.6 872.0,99.0 875.7,98.4 C879.4,97.9 886.7,96.6 891.9,94.4 C897.1,92.2 902.0,87.6 907.1,85.3 C912.2,83.0 917.5,81.4 922.7,80.8 C927.9,80.2 932.7,80.5 938.4,81.9 C944.1,83.3 951.0,86.0 956.7,89.2 C962.4,92.4 967.2,97.5 972.4,101.0 C977.6,104.5 983.1,108.0 988.1,110.1 C993.1,112.2 997.7,115.2 1002.5,113.5 C1007.3,111.8 1012.3,105.0 1016.9,99.7 C1021.5,94.4 1025.6,86.2 1029.9,81.4 C1034.2,76.6 1039.1,72.7 1043.0,70.9 C1046.9,69.1 1049.6,69.1 1053.5,70.4 C1057.4,71.7 1062.2,74.8 1066.5,78.8 C1070.8,82.8 1075.1,89.9 1079.1,94.4 C1083.1,98.9 1086.8,105.6 1090.5,106.0 C1094.2,106.4 1096.3,102.5 1101.0,96.8 C1105.7,91.1 1112.8,77.7 1118.4,72.0 C1124.1,66.3 1129.9,64.3 1134.9,62.4 C1139.9,60.5 1144.0,60.2 1148.6,60.4 C1153.2,60.6 1156.5,61.8 1162.4,63.7 C1168.4,65.6 1177.4,71.3 1184.3,72.0 C1191.2,72.7 1196.7,69.3 1203.6,67.8 C1210.5,66.3 1218.7,63.0 1225.5,63.2 C1232.3,63.4 1239.2,66.1 1244.7,69.2 C1250.2,72.3 1254.6,78.3 1258.5,81.6 C1262.4,84.9 1264.9,88.8 1268.1,89.0 C1271.3,89.2 1272.9,86.3 1277.7,82.9 C1282.5,79.5 1291.9,71.2 1296.9,68.7 C1301.9,66.2 1303.8,67.7 1307.9,67.8 C1312.0,67.9 1317.0,69.0 1321.6,69.2 C1326.2,69.4 1332.0,68.0 1335.4,68.7 C1338.8,69.4 1340.2,70.5 1342.2,73.3 C1344.2,76.1 1345.6,79.0 1347.7,85.7 C1349.8,92.4 1352.5,102.7 1354.6,113.2 C1356.7,123.7 1358.7,137.4 1360.1,148.8 C1361.5,160.2 1361.9,168.5 1362.8,181.8 C1363.7,195.1 1365.0,210.8 1365.6,228.5 C1366.2,246.2 1366.0,266.7 1366.5,288.0 C1367.0,309.3 1368.3,336.2 1368.9,356.1 C1369.5,376.0 1370.1,389.0 1369.9,407.1 C1369.7,425.2 1368.0,455.3 1367.6,464.9" fill="none" stroke="#000040" stroke-width="1.0" stroke-linejoin="round"/><path d="M125.6,705.5 C127.7,704.9 120.3,702.9 138.1,701.8 C155.9,700.6 201.1,700.2 232.5,698.6 C263.9,697.0 305.2,694.1 326.8,692.3 C348.4,690.5 346.3,689.5 361.9,687.9 C377.5,686.3 404.5,684.0 420.2,682.6 C435.9,681.2 445.1,681.6 456.3,679.5 C467.6,677.4 478.0,671.9 487.7,670.1 C497.4,668.4 507.5,669.4 514.5,669.0 C521.5,668.6 524.3,667.6 529.6,668.0 C534.9,668.4 541.1,670.9 546.4,671.1 C551.6,671.3 556.2,670.8 561.1,669.0 C566.0,667.2 570.6,664.1 575.8,660.6 C581.0,657.1 587.0,651.8 592.5,648.1 C598.0,644.4 602.4,641.6 608.9,638.6 C615.4,635.6 623.1,633.6 631.4,630.2 C639.7,626.8 650.7,619.7 658.7,618.3 C666.8,616.9 674.1,620.7 679.7,621.8 C685.3,622.9 688.0,625.0 692.2,625.0 C696.4,625.0 697.4,624.6 704.8,621.8 C712.1,619.0 725.8,611.9 736.3,608.2 C746.8,604.5 757.7,601.8 767.7,599.8 C777.7,597.8 785.9,597.0 796.4,596.1 C806.9,595.2 799.1,595.2 830.6,594.6 C862.1,594.0 949.7,592.6 985.4,592.4 C1021.1,592.1 1027.0,592.9 1044.7,593.1 C1062.4,593.3 1076.1,593.0 1091.8,593.5 C1107.5,594.0 1124.1,595.8 1138.8,596.4 C1153.5,597.0 1166.5,597.2 1180.0,597.1 C1193.5,597.0 1205.5,596.5 1220.1,595.8 C1234.7,595.1 1256.6,593.2 1267.6,592.7 C1278.6,592.2 1281.7,593.5 1286.3,592.7 C1290.9,592.0 1291.3,592.5 1295.3,588.2 C1299.3,584.0 1305.8,573.5 1310.3,567.2 C1314.8,561.0 1318.6,554.5 1322.4,550.7 C1326.2,546.9 1329.4,544.4 1332.9,544.6 C1336.4,544.9 1339.9,547.9 1343.4,552.2 C1346.9,556.5 1350.4,562.7 1353.9,570.2 C1357.4,577.7 1361.6,588.8 1364.4,597.3 C1367.2,605.8 1369.2,612.8 1370.5,621.3 C1371.8,629.8 1372.0,639.9 1372.0,648.4 C1372.0,656.9 1371.2,665.4 1370.5,672.4 C1369.8,679.4 1368.5,685.7 1367.5,690.5 C1366.5,695.3 1364.9,699.2 1364.4,701.0" fill="none" stroke="#e07878" stroke-width="1" stroke-linejoin="round"/><path d="M64.8,705.3 C77.0,704.5 110.1,702.0 138.1,700.7 C166.0,699.4 201.1,699.0 232.5,697.6 C263.9,696.2 305.2,694.1 326.8,692.3 C348.4,690.5 346.3,688.4 361.9,686.8 C377.5,685.2 402.7,684.2 420.2,682.6 C437.7,681.0 455.6,679.3 466.8,677.4 C478.1,675.5 479.8,672.5 487.7,671.1 C495.6,669.7 505.8,669.9 514.5,669.0 C523.2,668.1 531.3,667.6 540.1,665.9 C548.9,664.1 560.4,660.2 567.4,658.5 C574.4,656.8 577.9,655.8 582.1,655.4 C586.3,655.0 588.0,656.2 592.5,656.4 C597.0,656.6 600.7,658.8 608.9,656.4 C617.1,654.0 629.4,646.3 641.9,641.8 C654.4,637.3 673.8,632.4 683.9,629.2 C694.0,626.1 693.6,626.4 702.3,622.9 C711.0,619.4 725.4,611.9 736.3,608.2 C747.2,604.5 757.7,603.0 767.7,600.9 C777.7,598.8 785.9,597.2 796.4,595.6 C806.9,594.0 810.8,592.7 830.6,591.4 C850.4,590.1 895.3,588.2 915.3,587.6 C935.3,587.0 940.8,587.2 950.6,587.6 C960.4,588.0 968.3,589.4 974.1,590.0 C979.9,590.6 982.6,592.0 985.4,591.2 C988.1,590.4 989.4,588.4 990.6,585.3 C991.9,582.2 992.9,576.5 992.9,572.4 C992.9,568.3 991.6,564.5 990.6,560.6 C989.6,556.7 987.1,550.4 987.1,548.8 C987.1,547.2 988.1,548.9 990.6,551.2 C993.1,553.6 997.3,557.0 1002.4,562.9 C1007.5,568.8 1014.9,577.1 1021.2,586.5 C1027.5,595.9 1034.9,610.0 1040.0,619.4 C1045.1,628.8 1048.7,635.8 1051.8,642.9 C1054.9,650.0 1057.0,653.9 1058.8,661.8 C1060.6,669.6 1061.8,685.3 1062.4,690.0" fill="none" stroke="#68a868" stroke-width="1" stroke-linejoin="round"/><path d="M64.8,704.9 C77.0,704.0 110.1,701.5 138.1,699.7 C166.0,698.0 201.1,696.1 232.5,694.4 C263.9,692.6 305.2,691.2 326.8,689.2 C348.4,687.2 346.3,684.6 361.9,682.6 C377.5,680.6 402.7,679.5 420.2,677.4 C437.7,675.3 453.4,672.5 466.8,670.1 C480.2,667.7 492.4,663.9 500.3,662.7 C508.2,661.5 509.6,663.4 514.5,662.7 C519.4,662.0 524.3,660.6 529.6,658.5 C534.9,656.4 540.1,651.8 546.4,650.1 C552.7,648.4 559.7,648.2 567.4,648.1 C575.1,648.0 585.6,649.5 592.5,649.7 C599.4,649.9 602.4,651.1 608.9,649.1 C615.4,647.1 623.4,643.0 631.4,637.6 C639.4,632.2 649.6,620.9 656.6,616.6 C663.6,612.3 666.1,612.4 673.4,612.0 C680.7,611.6 693.3,614.2 700.6,614.5 C707.9,614.8 711.5,614.9 717.4,613.5 C723.3,612.1 727.9,608.4 736.3,606.1 C744.7,603.8 757.7,602.1 767.7,599.8 C777.7,597.5 786.6,594.6 796.4,592.5 C806.2,590.4 815.4,588.3 826.4,587.3 C837.4,586.2 847.3,586.9 862.1,586.2 C876.9,585.5 897.4,583.8 915.3,582.9 C933.2,582.0 951.8,580.5 969.4,580.6 C987.0,580.7 1002.8,582.9 1021.2,583.6 C1039.6,584.3 1064.3,584.9 1080.0,584.6 C1095.7,584.3 1106.3,582.6 1115.3,581.8 C1124.3,581.0 1126.2,580.1 1134.1,579.9 C1141.9,579.7 1154.8,580.1 1162.4,580.6 C1170.1,581.1 1174.4,582.4 1180.0,582.9 C1185.6,583.4 1186.9,582.3 1196.1,583.7 C1205.3,585.1 1223.3,589.5 1235.2,591.2 C1247.1,592.9 1260.1,592.4 1267.6,593.7 C1275.1,595.0 1275.2,595.7 1280.3,598.8 C1285.4,601.9 1292.3,606.5 1298.3,612.3 C1304.3,618.0 1310.8,625.8 1316.3,633.3 C1321.8,640.8 1326.4,649.4 1331.4,657.4 C1336.4,665.4 1342.2,674.4 1346.4,681.4 C1350.7,688.4 1355.2,696.5 1356.9,699.5" fill="none" stroke="#6868a0" stroke-width="1" stroke-linejoin="round"/><path d="M96.3,551.2 C98.5,552.2 104.7,555.5 109.2,557.1 C113.7,558.7 118.6,559.0 123.3,560.6 C128.0,562.2 133.6,564.5 137.5,566.5 C141.4,568.5 143.0,571.0 146.9,572.4 C150.8,573.8 155.9,573.7 161.0,574.7 C166.1,575.7 172.4,575.1 177.5,578.3 C182.6,581.4 187.7,590.7 191.6,593.6 C195.5,596.5 197.5,596.1 201.0,595.9 C204.5,595.7 208.5,593.2 212.8,592.4 C217.1,591.6 223.0,591.2 226.9,591.2 C230.8,591.2 232.0,591.0 236.3,592.4 C240.6,593.8 246.5,597.8 252.8,599.4 C259.1,601.0 268.1,600.2 274.0,601.8 C279.9,603.4 282.6,606.1 288.1,608.9 C293.6,611.6 301.6,616.8 306.9,618.3 C312.2,619.8 315.7,617.5 320.0,617.7 C324.3,617.9 328.1,618.7 332.6,619.7 C337.2,620.7 342.4,621.8 347.3,623.9 C352.2,626.0 356.7,629.8 361.9,632.3 C367.1,634.8 373.4,637.5 378.7,639.2 C383.9,641.0 386.5,642.1 393.4,642.8 C400.3,643.5 408.0,643.2 420.2,643.4 C432.4,643.6 451.1,643.9 466.8,643.9 C482.5,643.9 504.0,643.4 514.5,643.4 C525.0,643.4 525.0,644.2 529.6,643.9 C534.2,643.6 538.0,642.3 542.2,641.8 C546.4,641.3 550.6,640.5 554.8,640.7 C559.0,640.9 562.5,641.6 567.4,642.8 C572.3,644.0 580.0,646.9 584.2,648.1 C588.4,649.3 588.4,649.6 592.5,650.1 C596.6,650.6 598.2,650.9 608.9,651.2 C619.6,651.6 644.1,652.6 656.6,652.2 C669.1,651.9 675.9,650.3 683.9,649.1 C691.9,647.9 696.1,645.9 704.8,644.9 C713.5,643.9 721.0,643.8 736.3,643.4 C751.6,643.0 780.7,642.5 796.4,642.4 C812.1,642.3 819.6,642.5 830.6,642.8 C841.6,643.1 850.2,643.4 862.1,644.3 C874.0,645.1 891.0,646.8 901.8,647.9 C912.6,649.0 913.2,650.3 927.1,651.2 C941.0,652.1 965.8,652.9 985.4,653.5 C1005.0,654.1 1027.0,654.6 1044.7,654.7 C1062.4,654.8 1076.1,654.2 1091.8,654.2 C1107.5,654.2 1122.4,654.8 1138.8,654.7 C1155.2,654.6 1168.6,654.2 1190.1,653.8 C1211.6,653.3 1247.6,652.4 1267.6,652.0 C1287.6,651.6 1298.2,651.4 1310.3,651.4 C1322.4,651.4 1333.4,651.0 1340.4,652.0 C1347.4,653.0 1348.4,654.8 1352.4,657.4 C1356.4,660.0 1361.1,664.9 1364.4,667.9 C1367.7,670.9 1370.7,674.1 1372.0,675.4" fill="none" stroke="#b01818" stroke-width="1.0" stroke-linejoin="round"/><path d="M64.5,544.1 C64.8,543.9 65.6,541.3 66.4,542.9 C67.2,544.5 67.4,548.2 69.2,553.5 C71.0,558.8 75.1,571.6 77.4,574.7 C79.8,577.9 81.1,576.3 83.3,572.4 C85.5,568.5 88.2,556.2 90.4,551.2 C92.6,546.2 94.3,543.0 96.3,542.2 C98.2,541.4 99.9,544.6 102.1,546.5 C104.2,548.4 105.7,550.4 109.2,553.5 C112.7,556.6 118.6,561.6 123.3,565.3 C128.0,569.0 132.8,573.5 137.5,575.9 C142.2,578.2 146.1,578.0 151.6,579.4 C157.1,580.8 164.9,582.1 170.4,584.1 C175.9,586.1 180.2,589.0 184.5,591.2 C188.8,593.4 192.4,596.1 196.3,597.1 C200.2,598.1 202.3,596.7 208.1,597.1 C213.9,597.5 224.4,599.0 231.1,599.4 C237.8,599.8 242.9,598.8 248.1,599.4 C253.3,600.0 257.9,601.0 262.2,603.0 C266.5,605.0 269.7,609.2 274.0,611.2 C278.3,613.2 282.6,613.5 288.1,614.7 C293.6,615.9 301.6,617.8 306.9,618.3 C312.2,618.8 315.0,616.9 320.0,617.7 C325.0,618.5 329.8,620.1 336.8,622.9 C343.8,625.7 354.2,631.4 361.9,634.4 C369.6,637.4 377.6,639.4 382.9,640.7 C388.1,642.0 387.2,642.2 393.4,642.4 C399.6,642.6 406.6,642.0 420.2,641.8 C433.8,641.6 459.4,640.9 475.1,641.3 C490.8,641.6 503.7,643.5 514.5,643.9 C525.3,644.3 531.3,643.9 540.1,643.9 C548.9,643.9 559.7,643.0 567.4,643.9 C575.1,644.8 579.3,647.7 586.2,649.1 C593.1,650.5 596.1,652.2 608.9,652.2 C621.7,652.2 647.6,650.1 662.9,649.1 C678.2,648.1 686.6,646.4 700.6,646.0 C714.6,645.6 730.8,646.6 746.8,647.0 C762.8,647.4 782.4,647.5 796.4,648.1 C810.4,648.7 821.4,649.6 830.6,650.6 C839.8,651.6 844.6,653.2 851.6,654.3 C858.6,655.3 865.4,656.6 872.5,656.9 C879.6,657.2 887.0,657.2 894.1,655.9 C901.2,654.5 908.6,652.1 915.3,648.8 C922.0,645.5 927.4,640.1 934.1,635.9 C940.8,631.7 948.6,625.6 955.3,623.6 C962.0,621.6 969.4,623.3 974.1,623.6 C978.8,623.9 980.8,624.4 983.5,625.3 C986.2,626.2 989.0,627.4 990.6,628.8 C992.2,630.2 993.5,631.7 992.9,633.5 C992.3,635.3 987.9,637.4 987.1,639.4 C986.3,641.4 985.7,642.9 988.2,645.3 C990.8,647.6 996.9,651.4 1002.4,653.5 C1007.9,655.6 1014.2,656.8 1021.2,658.2 C1028.2,659.7 1038.4,661.8 1044.7,662.2 C1051.0,662.6 1055.8,661.2 1058.8,660.6 C1061.8,660.0 1062.2,659.5 1062.4,658.9 C1062.6,658.3 1060.8,657.1 1060.0,657.1 C1059.2,657.1 1058.0,658.6 1057.6,658.9" fill="none" stroke="#086008" stroke-width="1.0" stroke-linejoin="round"/><path d="M62.1,558.2 C63.7,558.8 68.3,561.2 71.5,561.8 C74.7,562.4 77.1,560.6 81.0,561.8 C84.9,563.0 89.6,567.0 95.1,568.8 C100.6,570.6 106.8,570.8 113.9,572.4 C121.0,574.0 128.1,575.5 137.5,578.3 C146.9,581.0 161.0,586.2 170.4,588.9 C179.8,591.6 186.9,593.1 194.0,594.7 C201.1,596.3 206.9,596.3 212.8,598.3 C218.7,600.3 221.5,604.4 229.3,606.5 C237.2,608.6 250.9,609.8 259.9,611.2 C268.9,612.6 275.6,612.7 283.4,614.7 C291.2,616.7 300.8,621.3 306.9,623.0 C313.0,624.7 314.3,623.5 320.0,625.0 C325.7,626.5 334.0,630.1 341.0,632.3 C348.0,634.5 354.9,636.1 361.9,638.0 C368.9,639.9 377.6,642.5 382.9,643.4 C388.1,644.3 387.2,643.6 393.4,643.4 C399.6,643.2 400.0,642.7 420.2,642.4 C440.4,642.1 494.5,641.4 514.5,641.8 C534.5,642.2 533.4,643.8 540.1,644.9 C546.8,646.0 547.8,647.2 554.8,648.1 C561.8,649.0 573.1,649.4 582.1,650.1 C591.1,650.8 600.7,651.9 608.9,652.2 C617.1,652.6 622.4,652.9 631.4,652.2 C640.4,651.5 651.4,649.4 662.9,648.1 C674.4,646.8 686.6,644.9 700.6,644.5 C714.6,644.1 730.8,645.2 746.8,646.0 C762.8,646.8 782.4,648.2 796.4,649.1 C810.4,650.0 821.4,650.3 830.6,651.2 C839.8,652.1 844.6,653.4 851.6,654.3 C858.6,655.2 865.5,656.6 872.5,656.4 C879.5,656.2 888.3,654.2 893.5,653.3 C898.7,652.4 896.0,652.7 903.5,651.2 C911.0,649.7 926.2,646.0 938.8,644.1 C951.3,642.2 971.0,640.9 978.8,640.1 C986.6,639.3 978.3,638.9 985.4,639.4 C992.5,639.9 1007.4,641.9 1021.2,642.9 C1035.0,643.9 1056.4,644.5 1068.2,645.3 C1080.0,646.1 1080.0,647.4 1091.8,647.6 C1103.6,647.8 1122.4,646.9 1138.8,646.5 C1155.2,646.1 1171.5,646.0 1190.1,645.4 C1208.7,644.8 1236.2,643.5 1250.2,643.0 C1264.2,642.5 1267.3,642.2 1274.3,642.4 C1281.3,642.5 1286.3,642.9 1292.3,643.9 C1298.3,644.9 1304.8,646.9 1310.3,648.4 C1315.8,649.9 1320.4,651.4 1325.4,652.9 C1330.4,654.4 1335.4,655.1 1340.4,657.4 C1345.4,659.6 1350.4,663.4 1355.4,666.4 C1360.4,669.4 1368.0,673.9 1370.5,675.4" fill="none" stroke="#000040" stroke-width="1.0" stroke-linejoin="round"/><path d="M1344.9,484.5 C1346.2,496.3 1349.9,533.4 1352.4,555.2 C1354.9,577.0 1357.1,594.3 1359.9,615.3 C1362.7,636.3 1367.5,670.4 1369.0,681.4" fill="none" stroke="#000040" stroke-width="1.0" stroke-linejoin="round"/><line x1="48.4" y1="650.5" x2="1382" y2="650.5" stroke="#781010" stroke-width="1" stroke-dasharray="33 17.1"/></svg></body></html>
